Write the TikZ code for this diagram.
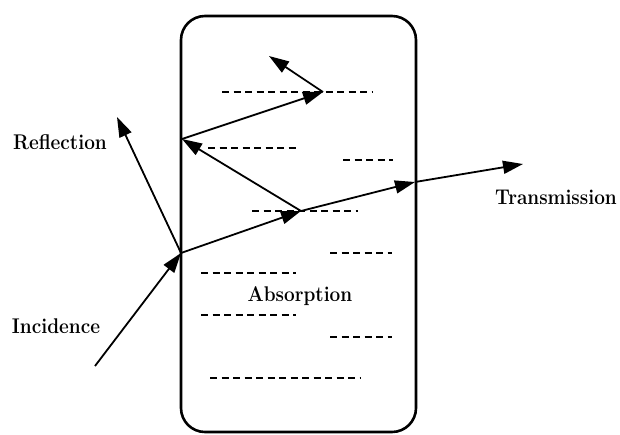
\documentclass[tikz,border=0pt]{standalone}
\usepackage{fontspec}
\usepackage{graphicx}
\usetikzlibrary{arrows.meta}
\newcommand{\tallbox}[1]{\scalebox{1}[1.12]{#1}}
\begin{document}
\begin{tikzpicture}[x=1pt,y=-1pt,
  ray/.style={line width=1.8pt,-{Triangle[length=20pt,width=13pt]}},
  dashline/.style={line width=1.8pt,dash pattern=on 7pt off 4.5pt},
  lbl/.style={font=\fontsize{19}{22}\selectfont\bfseries,inner sep=0pt}]
\useasboundingbox (0,0) rectangle (620,434);
\draw[line width=2.6pt,rounded corners=24pt] (181,16) rectangle (416,432);
% points
\coordinate (S) at (95,366);
\coordinate (P1) at (181,253);
\coordinate (R) at (117,117);
\coordinate (P2) at (301,211);
\coordinate (P3) at (415,182);
\coordinate (T) at (523,164);
\coordinate (P4) at (182,139);
\coordinate (P5) at (323,92);
\coordinate (E) at (269,56);
% dashed lines
\draw[dashline] (222,92) -- (372,92);
\draw[dashline] (208,148) -- (296,148);
\draw[dashline] (343,160) -- (393,160);
\draw[dashline] (252,211) -- (358,211);
\draw[dashline] (330,253) -- (392,253);
\draw[dashline] (201,273) -- (296,273);
\draw[dashline] (201,315) -- (296,315);
\draw[dashline] (330,337) -- (392,337);
\draw[dashline] (210,378) -- (360,378);
% rays
\draw[ray] (S) -- (P1);
\draw[ray] (P1) -- (R);
\draw[ray] (P1) -- (P2);
\draw[ray] (P2) -- (P3);
\draw[ray] (P3) -- (T);
\draw[ray] (P2) -- (P4);
\draw[ray] (P4) -- (P5);
\draw[ray] (P5) -- (E);
% labels
\node[lbl] (refl) at (60,142) {\tallbox{Reflection}};
\node[lbl] (inc) at (56,326) {\tallbox{Incidence}};
\node[lbl] (trans) at (556,197) {\tallbox{Transmission}};
\node[lbl] (abs) at (300,296) {\tallbox{Absorption}};
\end{tikzpicture}
\end{document}
